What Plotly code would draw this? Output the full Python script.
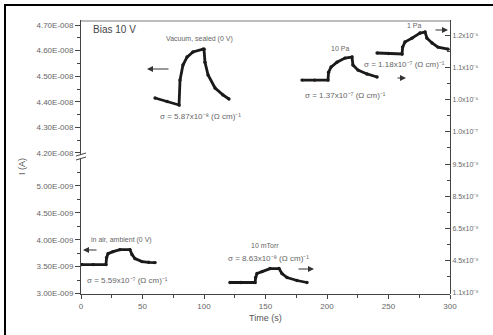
import plotly.graph_objects as go

# ---------------- data ----------------
# lower broken-axis segment (A)
air_t = [0.8, 10, 20.3, 20.8, 22.0, 26.0, 31.7, 39.8, 41.5, 43.9, 49.6, 55, 60.2]
air_I = [3.537e-9, 3.537e-9, 3.537e-9, 3.667e-9, 3.741e-9, 3.778e-9, 3.815e-9,
         3.815e-9, 3.722e-9, 3.648e-9, 3.593e-9, 3.580e-9, 3.574e-9]

mt_t = [121.1, 130, 141.5, 142.0, 143.1, 147.2, 153.7, 161, 163.4, 167.5, 175.6, 183.7]
mt_I = [3.204e-9, 3.204e-9, 3.204e-9, 3.296e-9, 3.370e-9, 3.407e-9, 3.463e-9,
        3.463e-9, 3.370e-9, 3.296e-9, 3.241e-9, 3.204e-9]

# upper broken-axis segment (A)
vac_t = [60.2, 70, 79.7, 80.5, 82.9, 86.2, 91, 99.2, 100, 100.8, 103.3, 109, 115.4, 120.3]
vac_I = [4.415e-8, 4.401e-8, 4.3875e-8, 4.485e-8, 4.544e-8, 4.575e-8, 4.595e-8, 4.606e-8,
         4.606e-8, 4.555e-8, 4.505e-8, 4.454e-8, 4.427e-8, 4.411e-8]

pa10_t = [179.7, 190, 200.8, 201.3, 203.3, 208.1, 214.6, 220.3, 221.1, 225.2, 232.5, 240.7]
pa10_I = [4.485e-8, 4.485e-8, 4.485e-8, 4.516e-8, 4.536e-8, 4.555e-8, 4.571e-8,
          4.575e-8, 4.544e-8, 4.524e-8, 4.509e-8, 4.497e-8]

pa1_t = [240.7, 250, 261, 261.5, 263.4, 269.1, 275.6, 279.7, 281.3, 285.4, 290.2, 298.4]
pa1_I = [4.591e-8, 4.589e-8, 4.587e-8, 4.614e-8, 4.634e-8, 4.649e-8, 4.669e-8,
         4.673e-8, 4.649e-8, 4.630e-8, 4.614e-8, 4.606e-8]

# tick labels
x_ticks = [0, 50, 100, 150, 200, 250, 300]
low_ticks = [3.0e-9, 3.5e-9, 4.0e-9, 4.5e-9, 5.0e-9]
low_text = ["3.00E-009", "3.50E-009", "4.00E-009", "4.50E-009", "5.00E-009"]
up_ticks = [4.2e-8, 4.3e-8, 4.4e-8, 4.5e-8, 4.6e-8, 4.7e-8]
up_text = ["4.20E-008", "4.30E-008", "4.40E-008", "4.50E-008", "4.60E-008", "4.70E-008"]
right_ticks = [0, 1, 2, 3, 4, 5, 6, 7, 8]
right_text = ["1.1x10⁻⁸", "4.5x10⁻⁸", "6.5x10⁻⁸", "8.5x10⁻⁸", "9.5x10⁻⁸",
              "1.0x10⁻⁷", "1.0x10⁻⁶", "1.1x10⁻⁶", "1.2x10⁻⁶"]

# ---------------- layout helpers ----------------
W, H = 493, 335
L, R, T, B = 81, 43, 20, 41
PW, PH = W - L - R, H - T - B


def px(x):
    return (x - L) / PW


def py(y):
    return (H - B - y) / PH


def mids(v):
    return [(a + b) / 2 for a, b in zip(v[:-1], v[1:])]


INK = "#1a1a1a"
TXT = "#666666"
FONT = "Liberation Sans, Arial, sans-serif"

fig = go.Figure()
fig.add_trace(go.Scatter(x=[], y=[], yaxis="y2", xaxis="x", showlegend=False))
line = dict(color=INK, width=2.8)
mk = dict(color=INK, size=3.4)
for t, i, ax in [(air_t, air_I, "y"), (mt_t, mt_I, "y"),
                 (vac_t, vac_I, "y3"), (pa10_t, pa10_I, "y3"), (pa1_t, pa1_I, "y3")]:
    fig.add_trace(go.Scatter(x=t, y=i, yaxis=ax, xaxis="x", mode="lines+markers",
                             line=line, marker=mk, showlegend=False, hoverinfo="skip"))

tickfont = dict(family=FONT, size=8, color=TXT)
rtickfont = dict(family=FONT, size=7, color=TXT)
axline = dict(showline=True, linecolor="#444", linewidth=1, showgrid=False, zeroline=False)

fig.update_layout(
    width=W, height=H, autosize=False,
    margin=dict(l=L, r=R, t=T, b=B),
    paper_bgcolor="white", plot_bgcolor="rgba(0,0,0,0)",
    font=dict(family=FONT, color=TXT, size=8),
    xaxis=dict(range=[0, 300], tickmode="array", tickvals=x_ticks,
               ticks="outside", ticklen=4, tickcolor="#444", tickfont=tickfont,
               minor=dict(tickvals=mids(x_ticks), ticks="outside", ticklen=3, tickcolor="#444"),
               anchor="y", **axline),
    yaxis=dict(domain=[0, py(158)], range=[2.99e-9, 5.52e-9], tickmode="array",
               tickvals=low_ticks, ticktext=low_text, ticks="outside", ticklen=5,
               tickcolor="#444", tickfont=tickfont,
               minor=dict(tickvals=mids(low_ticks) + [5.25e-9], ticks="outside", ticklen=3, tickcolor="#444"),
               anchor="x", **axline),
    yaxis3=dict(domain=[py(155), 1], range=[4.192e-8, 4.72e-8], tickmode="array",
                tickvals=up_ticks, ticktext=up_text, ticks="outside", ticklen=5,
                tickcolor="#444", tickfont=tickfont,
                minor=dict(tickvals=mids(up_ticks), ticks="outside", ticklen=3, tickcolor="#444"),
                anchor="x", **axline),
    yaxis2=dict(domain=[0, 1], range=[-0.03, 8.47], side="right", anchor="x",
                tickmode="array", tickvals=right_ticks, ticktext=right_text,
                ticks="inside", ticklen=5, tickcolor="#444", tickfont=rtickfont,
                minor=dict(tickvals=mids(right_ticks), ticks="inside", ticklen=3, tickcolor="#444"),
                **axline),
)

shapes = [
    # gray top frame
    dict(type="line", xref="paper", yref="paper", x0=0, x1=1, y0=py(21), y1=py(21),
         line=dict(color="#bdbdbd", width=2)),
    # axis break marks
    dict(type="line", xref="paper", yref="paper", x0=px(76), x1=px(86), y0=py(156), y1=py(153),
         line=dict(color="#444", width=1)),
    dict(type="line", xref="paper", yref="paper", x0=px(76), x1=px(86), y0=py(160), y1=py(157),
         line=dict(color="#444", width=1)),
    # outer black border (top / left)
    dict(type="line", xref="paper", yref="paper", x0=px(4), x1=px(493), y0=py(5), y1=py(5),
         line=dict(color="black", width=2)),
    dict(type="line", xref="paper", yref="paper", x0=px(5), x1=px(5), y0=py(4), y1=py(335),
         line=dict(color="black", width=2)),
]
fig.update_layout(shapes=shapes)

ann = []


def text(x, y, s, size=8, anchor="center", color=TXT):
    ann.append(dict(xref="paper", yref="paper", x=px(x), y=py(y), text=s, showarrow=False,
                    xanchor=anchor, yanchor="middle",
                    font=dict(family=FONT, size=size, color=color)))


def arrow(x_head, x_tail, y):
    ann.append(dict(xref="paper", yref="paper", x=px(x_head), y=py(y), text="",
                    showarrow=True, ax=x_tail - x_head, ay=0, arrowhead=2, arrowsize=1,
                    arrowwidth=1.2, arrowcolor="#333"))


SIG = "σ = {}x10{} (Ω cm)⁻¹"
text(91, 30, "Bias 10 V", size=10, anchor="left", color="#444")
text(199, 39, "Vacuum, sealed (0 V)", size=7)
text(200, 117, SIG.format("5.87", "⁻⁸"))
text(340, 48, "10 Pa", size=7)
text(345, 95, SIG.format("1.37", "⁻⁷"))
text(414, 25, "1 Pa", size=7)
text(404, 64, SIG.format("1.18", "⁻⁷"))
text(265, 245, "10 mTorr", size=7)
text(268, 258, SIG.format("8.63", "⁻⁸"))
text(121, 240, "in air, ambient (0 V)", size=7)
text(127, 280, SIG.format("5.59", "⁻⁷"))
arrow(83, 98, 250)
arrow(147, 170, 69)
arrow(406, 396, 78)
arrow(448, 434, 30)
arrow(314, 297, 269)

# axis titles
text(265, 318, "Time (s)", size=9, color="#555")
ann.append(dict(xref="paper", yref="paper", x=px(15), y=py(167), text="I (A)", showarrow=False,
                textangle=-90, font=dict(family=FONT, size=9, color="#555")))
fig.update_layout(annotations=ann)

fig.write_html("out.html", config={"displayModeBar": False},
               post_script="document.body.style.margin='0';")
